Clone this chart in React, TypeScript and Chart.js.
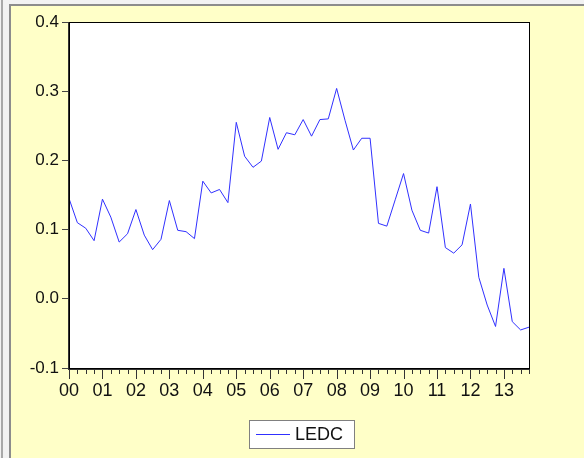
import React, { useEffect, useRef } from "react";
import { Chart, registerables } from "chart.js";
Chart.register(...registerables);

const YEARS = ["00", "01", "02", "03", "04", "05", "06", "07", "08", "09", "10", "11", "12", "13"];
const QUARTERS = ["Q1", "Q2", "Q3", "Q4"];
const SERIES_NAME = "LEDC";
const LEDC = [
  0.145, 0.110, 0.102, 0.084, 0.144, 0.118, 0.082, 0.094, 0.129, 0.092,
  0.071, 0.086, 0.142, 0.099, 0.097, 0.087, 0.170, 0.153, 0.158, 0.139,
  0.255, 0.206, 0.190, 0.199, 0.262, 0.216, 0.240, 0.237, 0.259, 0.235,
  0.259, 0.260, 0.304, 0.258, 0.215, 0.232, 0.232, 0.109, 0.105, 0.143,
  0.181, 0.128, 0.099, 0.095, 0.162, 0.074, 0.066, 0.078, 0.137, 0.031,
  -0.009, -0.040, 0.044, -0.033, -0.045, -0.041,
];
const Y_MIN = -0.1;
const Y_MAX = 0.4;
const Y_STEP = 0.1;

const LABELS: string[] = [];
YEARS.forEach((y) => QUARTERS.forEach((q) => LABELS.push(y + q)));
const CATS = LABELS.slice(0, LEDC.length);

const FONT = '"Liberation Sans", Arial, sans-serif';
const YELLOW = "#FFFFC8";
const LINE_BLUE = "rgb(48,48,255)";

const framePlugin = {
  id: "eviewsFrame",
  beforeDraw(chart: any) {
    const ctx = chart.ctx;
    const W = chart.width;
    const H = chart.height;
    const a = chart.chartArea;
    ctx.save();
    ctx.fillStyle = YELLOW;
    ctx.fillRect(0, 0, W, H);
    ctx.fillStyle = "#F2F2F2";
    ctx.fillRect(0, 0, 9, H);
    ctx.fillRect(9, 0, W - 9, 5);
    ctx.fillStyle = "#A8A8A8";
    ctx.fillRect(1, 0, 2, H);
    ctx.fillStyle = "#8C8C8C";
    ctx.fillRect(9, 5, 2, H - 5);
    ctx.fillRect(9, 4, W - 9, 2);
    ctx.fillStyle = "#FFFFFF";
    ctx.fillRect(a.left, a.top, a.right - a.left, a.bottom - a.top);
    ctx.restore();
  },
  afterDraw(chart: any) {
    const ctx = chart.ctx;
    const a = chart.chartArea;
    const xs = chart.scales.x;
    ctx.save();
    // plot border
    ctx.strokeStyle = "#000";
    ctx.lineWidth = 1;
    ctx.strokeRect(Math.round(a.left) + 0.5, Math.round(a.top) + 0.5, Math.round(a.right - a.left), Math.round(a.bottom - a.top));
    ctx.strokeStyle = "#333";
    ctx.beginPath();
    ctx.moveTo(Math.round(a.left) - 0.5, a.top);
    ctx.lineTo(Math.round(a.left) - 0.5, a.bottom + 1);
    ctx.moveTo(a.left - 1, Math.round(a.bottom) + 1.5);
    ctx.lineTo(a.right + 1, Math.round(a.bottom) + 1.5);
    ctx.stroke();
    // x tick marks (year = major, quarter = minor)
    ctx.strokeStyle = "#333";
    ctx.beginPath();
    for (let i = 0; i < CATS.length; i++) {
      const px = Math.round(xs.getPixelForValue(i)) + 0.5;
      const major = CATS[i].endsWith("Q1");
      const y0 = Math.round(a.bottom) + 2;
      ctx.moveTo(px, y0);
      ctx.lineTo(px, y0 + (major ? 9 : 4));
    }
    ctx.stroke();
    // legend
    const ds = chart.data.datasets[0];
    const bx = 249, by = 420, bw = 105, bh = 28;
    ctx.fillStyle = "#FFFFFF";
    ctx.fillRect(bx, by, bw, bh);
    ctx.strokeStyle = "#808080";
    ctx.strokeRect(bx + 0.5, by + 0.5, bw, bh);
    ctx.strokeStyle = ds.borderColor;
    ctx.lineWidth = 1;
    ctx.beginPath();
    ctx.moveTo(256, by + 14.5);
    ctx.lineTo(290, by + 14.5);
    ctx.stroke();
    ctx.fillStyle = "#111";
    ctx.font = "18px " + FONT;
    ctx.textBaseline = "middle";
    ctx.textAlign = "left";
    ctx.fillText(ds.label, 295, by + 15);
    ctx.restore();
  },
};

export default function App() {
  const ref = useRef<HTMLCanvasElement>(null);
  useEffect(() => {
    document.body.style.margin = "0";
    const chart = new Chart(ref.current as HTMLCanvasElement, {
      type: "line",
      data: {
        labels: CATS,
        datasets: [
          {
            label: SERIES_NAME,
            data: LEDC,
            borderColor: LINE_BLUE,
            borderWidth: 1,
            pointRadius: 0,
            tension: 0,
            fill: false,
          },
        ],
      },
      options: {
        animation: false,
        responsive: false,
        maintainAspectRatio: false,
        layout: { padding: { left: 0, top: 22, right: 55, bottom: 0 } },
        plugins: { legend: { display: false }, tooltip: { enabled: false } },
        scales: {
          x: {
            type: "category",
            offset: false,
            grid: { display: false, drawTicks: false },
            border: { display: false },
            ticks: {
              autoSkip: false,
              maxRotation: 0,
              minRotation: 0,
              padding: 12,
              color: "#111",
              font: { family: FONT, size: 18 },
              callback: function (this: any, value: any) {
                const l = this.getLabelForValue(value) as string;
                return l.endsWith("Q1") ? l.slice(0, 2) : "";
              },
            },
            afterFit: (s: any) => {
              s.height = 90;
            },
          },
          y: {
            min: Y_MIN,
            max: Y_MAX,
            grid: { drawOnChartArea: false, drawTicks: true, tickLength: 7, color: "#444" },
            border: { display: false },
            ticks: {
              stepSize: Y_STEP,
              padding: 3,
              color: "#111",
              font: { family: FONT, size: 17 },
              callback: (v: any) => Number(v).toFixed(1),
            },
            afterFit: (s: any) => {
              s.width = 69;
            },
          },
        },
      },
      plugins: [framePlugin],
    });
    return () => chart.destroy();
  }, []);
  return (
    <div style={{ position: "absolute", left: 0, top: 0, width: 584, height: 458 }}>
      <canvas ref={ref} width={584} height={458} style={{ width: 584, height: 458, display: "block" }} />
    </div>
  );
}
